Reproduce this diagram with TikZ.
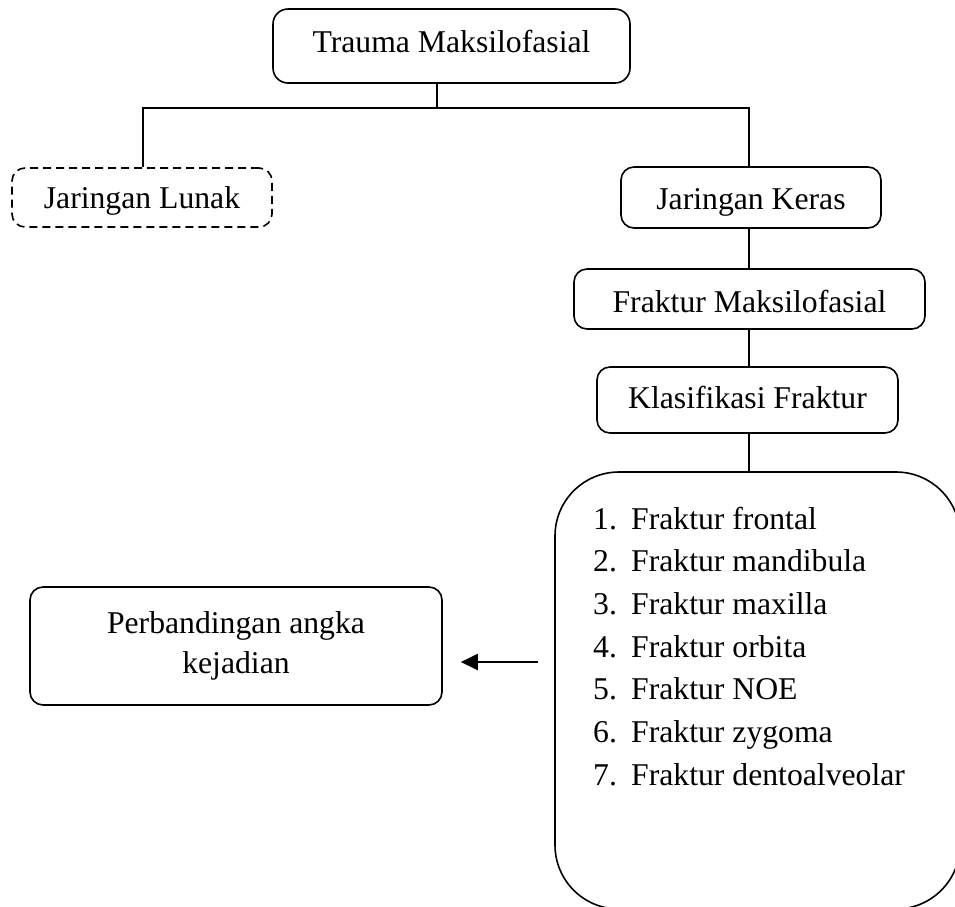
\documentclass[tikz,border=0pt]{standalone}
\usepackage{fontspec}
\setmainfont{Liberation Serif}
\usetikzlibrary{arrows.meta}
\begin{document}
\begin{tikzpicture}[x=1pt,y=-1pt,
  font=\fontsize{31.7}{40}\selectfont,
  every node/.style={inner sep=0pt},
  box/.style={draw,line width=1.6pt,rounded corners=13pt,align=center},
  dbox/.style={box,dash pattern=on 8pt off 5pt},
  conn/.style={line width=1.6pt},
  arr/.style={line width=2pt,-{Triangle[length=17pt,width=16pt]}},
  item/.style={anchor=base west}]
\path[use as bounding box] (0,0) rectangle (955,906);
\clip (0,0) rectangle (955,906);

\node[box,minimum width=357pt,minimum height=74pt,text height=22pt,text depth=10pt,rounded corners=15pt] (tm) at (451.5,46) {Trauma Maksilofasial};
\node[dbox,minimum width=260pt,minimum height=59pt,text height=22pt,text depth=1pt] (jl) at (142,197.5) {Jaringan Lunak};
\node[box,minimum width=260pt,minimum height=61pt,text height=23pt,text depth=0pt] (jk) at (751,197.5) {Jaringan Keras};
\node[box,minimum width=351pt,minimum height=60pt,text height=26pt,text depth=0pt] (fm) at (749.5,299) {Fraktur Maksilofasial};
\node[box,minimum width=301pt,minimum height=66pt,text height=22pt,text depth=6pt] (kf) at (747.5,400) {Klasifikasi Fraktur};
\node[draw,line width=1.6pt,rounded corners=64pt,minimum width=405pt,minimum height=437pt] (list) at (757.5,690.5) {};
\node[box,minimum width=412pt,minimum height=118pt] (pb) at (236,646) {Perbandingan angka\\kejadian};

\node[item] (i1) at (593,529.0) {\makebox[38pt][l]{1.}Fraktur frontal};
\node[item] (i2) at (593,571.7) {\makebox[38pt][l]{2.}Fraktur mandibula};
\node[item] (i3) at (593,614.4) {\makebox[38pt][l]{3.}Fraktur maxilla};
\node[item] (i4) at (593,657.1) {\makebox[38pt][l]{4.}Fraktur orbita};
\node[item] (i5) at (593,699.8) {\makebox[38pt][l]{5.}Fraktur NOE};
\node[item] (i6) at (593,742.5) {\makebox[38pt][l]{6.}Fraktur zygoma};
\node[item] (i7) at (593,785.2) {\makebox[38pt][l]{7.}Fraktur dentoalveolar};

\coordinate (split) at (437,108);
\coordinate (lft) at (143,108);
\coordinate (rgt) at (749,108);
\coordinate (arry) at (0,662);

\draw[conn] (tm.south -| split) -- (split);
\draw[conn] (jl.north -| lft) -- (lft) -- (rgt) -- (jk.north -| rgt);
\draw[conn] (jk.south -| rgt) -- (fm.north -| rgt);
\draw[conn] (fm.south -| rgt) -- (kf.north -| rgt);
\draw[conn] (kf.south -| rgt) -- (list.north -| rgt);
\draw[arr] ([xshift=-16pt]list.west |- arry) -- ([xshift=18pt]pb.east |- arry);
\end{tikzpicture}
\end{document}
